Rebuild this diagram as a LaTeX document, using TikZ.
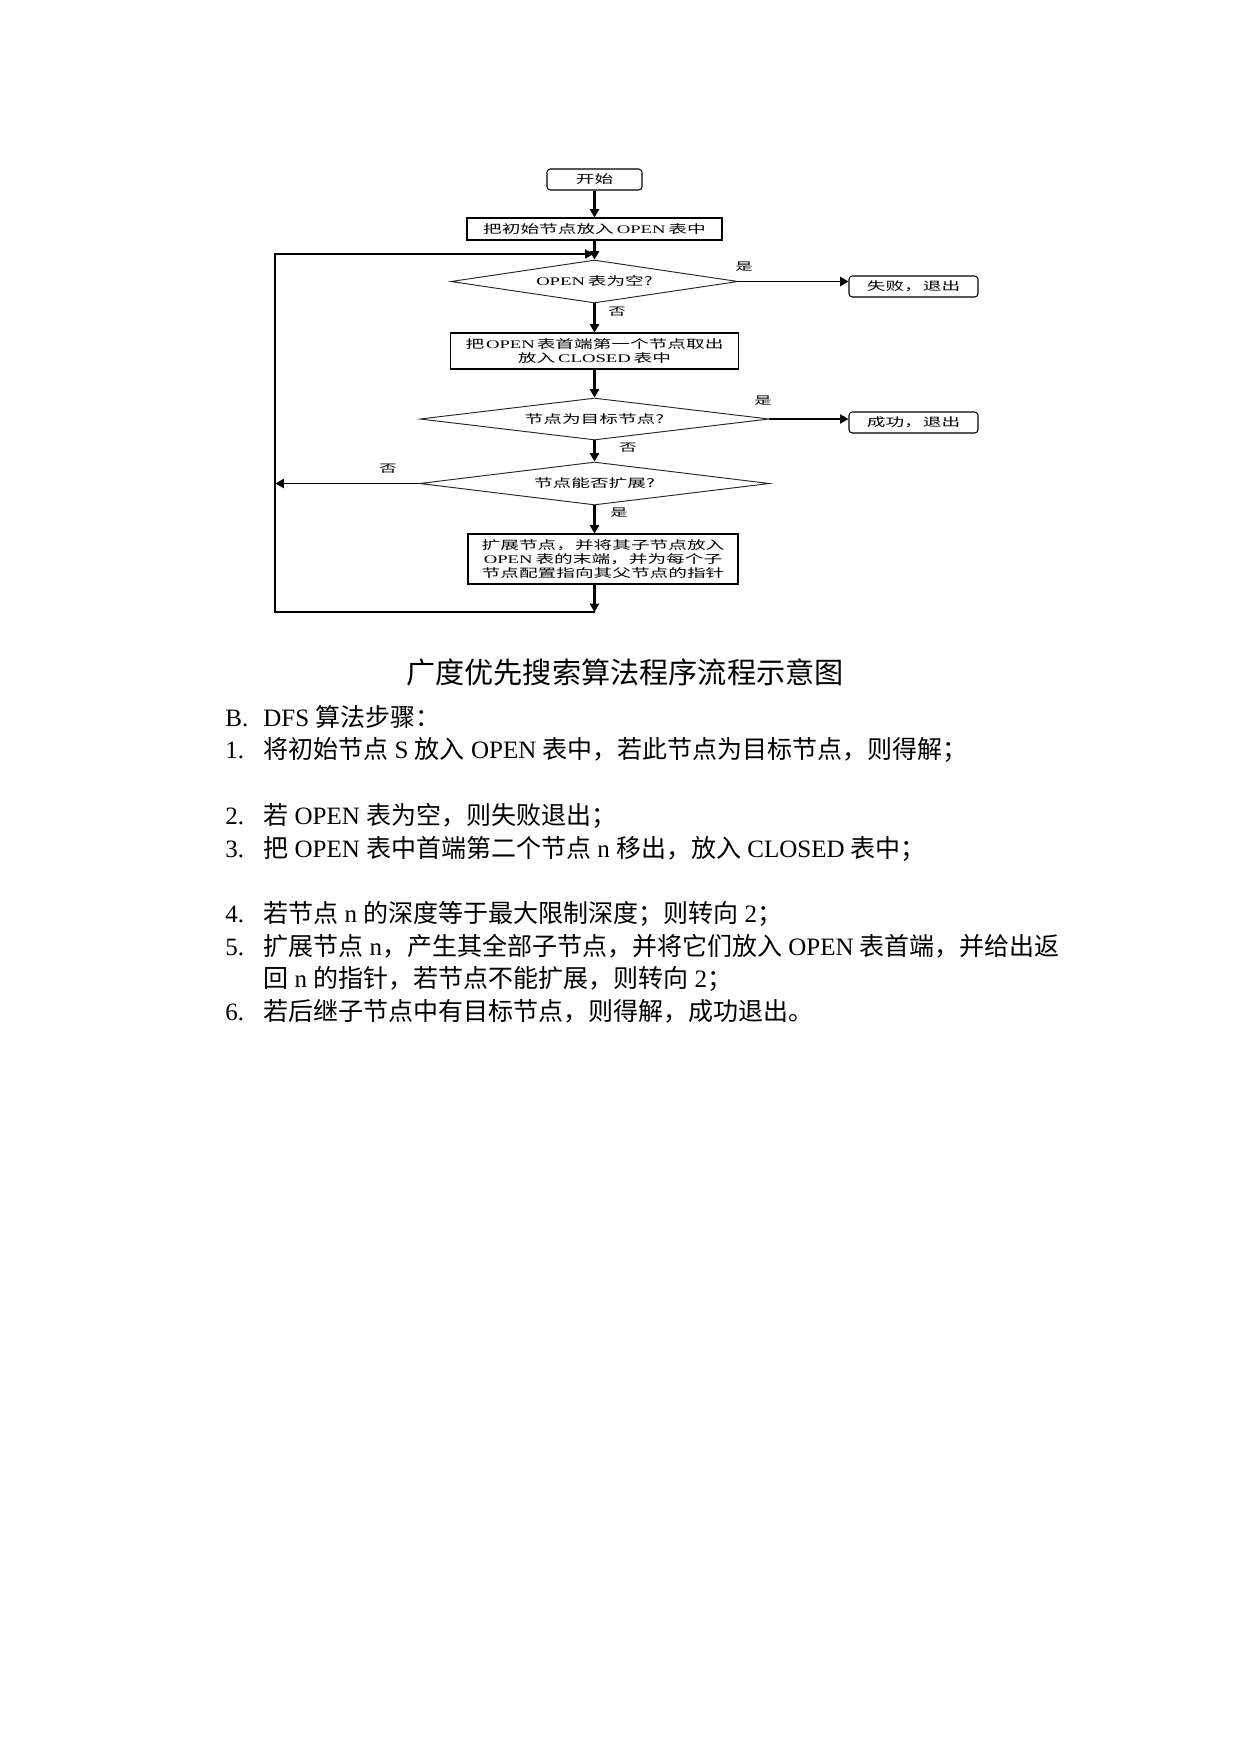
\documentclass[tikz,border=0pt]{standalone}
\usepackage{fontspec}
\setmainfont{Liberation Serif}
\newfontfamily\cjk{Noto Sans CJK SC}
\newfontfamily\fcjk[FakeStretch=1.6]{Noto Sans CJK SC}
\newfontfamily\fclat[FakeStretch=1.6]{Liberation Serif}
\usetikzlibrary{arrows.meta,shapes.geometric}
\newcommand\C[1]{{\cjk #1}}
\newcommand\FC[1]{{\fcjk #1}}
\newcommand\FL[1]{{\fclat #1}}
\tikzset{
  sz/.style 2 args={minimum width=#1*0.48pt, minimum height=#2*0.48pt},
  box/.style={draw=black, line width=0.5pt, inner sep=0pt, align=center,
    font=\fontsize{5.6}{6.6}\selectfont},
  rbox/.style={box, rounded corners=1.6pt},
  dia/.style={diamond, aspect=8, draw=black!85, line width=0.45pt, inner sep=0pt,
    font=\fontsize{5.6}{6.6}\selectfont},
  tip/.style={-{Triangle[length=4pt,width=4.4pt]}},
  thk/.style={tip, line width=1.4pt},
  med/.style={tip, line width=0.9pt},
  lite/.style={tip, line width=0.7pt},
  ret/.style={line width=0.55pt},
  lbl/.style={inner sep=0pt, font=\fontsize{5.2}{6}\selectfont\fcjk},
  body/.style={anchor=west, inner sep=0pt, text height=0.88em, text depth=0.12em,
    font=\fontsize{12}{15}\selectfont},
}
\begin{document}
\begin{tikzpicture}[x=0.48pt, y=-0.48pt]
\useasboundingbox[fill=white] (0,0) rectangle (1241,1754);

% flowchart nodes
\node[rbox, sz={95}{21}] (start) at (594.5,179.5) {\FC{开始}};
\node[box, sz={255}{22}] (init) at (594.5,229) {\FC{把初始节点放入} \FL{OPEN} \FC{表中}};
\node[dia, sz={287}{43}] (d1) at (594.5,281.5) {\FL{OPEN} \FC{表为空?}};
\node[rbox, sz={129}{21}] (fail) at (913.5,286.5) {\FC{失败，退出}};
\node[box, sz={288}{36}] (take) at (594.5,351) {\FC{把}\,\FL{OPEN}\,\FC{表首端第一个节点取出}\\ \FC{放入} \FL{CLOSED} \FC{表中}};
\node[dia, sz={349}{42}] (d2) at (594.5,419) {\FC{节点为目标节点?}};
\node[rbox, sz={129}{21}] (succ) at (913.5,422.5) {\FC{成功，退出}};
\node[dia, sz={350}{43}] (d3) at (594.5,483.5) {\FC{节点能否扩展?}};
\node[box, sz={270}{50}] (expand) at (603,559) {\FC{扩展节点，并将其子节点放入}\\ \FL{OPEN} \FC{表的末端，并为每个子}\\ \FC{节点配置指向其父节点的指针}};

% helper coordinates
\coordinate (bl) at (594.5,612);
\coordinate (lb) at (275,612);
\coordinate (lt) at (275,254);
\coordinate (join) at (593.5,254);
\coordinate (lm) at (275.5,483.5);

% connectors
\draw[thk] (start.south) -- (init.north);
\draw[thk] (init.south) -- (d1.north);
\draw[ret] (bl) -- (lb) -- (lt) -- (join);
\draw[tip, ret] (lt) -- (join);
\draw[thk] (d1.south) -- (take.north);
\draw[med] (d1.east) -- (d1.east -| fail.west);
\draw[thk] (take.south) -- (d2.north);
\draw[lite] (d2.east) -- (d2.east -| succ.west);
\draw[thk] (d2.south) -- (d3.north);
\draw[med] (d3.west) -- (lm);
\draw[thk] (d3.south) -- (d3.south |- expand.north);
\draw[thk] (d3.south |- expand.south) -- (bl);

% branch labels
\node[lbl] (y1) at (744,267) {是};
\node[lbl] (n1) at (617,312) {否};
\node[lbl] (y2) at (763,401) {是};
\node[lbl] (n2) at (628,448) {否};
\node[lbl] (n3) at (388,469) {否};
\node[lbl] (y3) at (619,513) {是};

% caption
\node[inner sep=0pt, font=\fontsize{14}{16}\selectfont\cjk] (title) at (625,672) {广度优先搜索算法程序流程示意图};

% body text
\node[body] (tb) at (225,719) {B.};
\node[body] (tb2) at (263,719) {DFS \C{算法步骤：}};
\node[body] (n1a) at (225,751) {1.};
\node[body] (n1b) at (263,751) {\C{将初始节点} S \C{放入} OPEN \C{表中，若此节点为目标节点，则得解；}};
\node[body] (n2a) at (225,817) {2.};
\node[body] (n2b) at (263,817) {\C{若} OPEN \C{表为空，则失败退出；}};
\node[body] (n3a) at (225,850) {3.};
\node[body] (n3b) at (263,850) {\C{把} OPEN \C{表中首端第二个节点} n \C{移出，放入} CLOSED \C{表中；}};
\node[body] (n4a) at (225,915) {4.};
\node[body] (n4b) at (263,915) {\C{若节点} n \C{的深度等于最大限制深度；则转向} 2\C{；}};
\node[body] (n5a) at (225,948) {5.};
\node[body] (n5b) at (263,948) {\C{扩展节点} n\C{，产生其全部子节点，并将它们放入} OPEN \C{表首端，并给出返}};
\node[body] (n5c) at (263,980) {\C{回} n \C{的指针，若节点不能扩展，则转向} 2\C{；}};
\node[body] (n6a) at (225,1013) {6.};
\node[body] (n6b) at (263,1013) {\C{若后继子节点中有目标节点，则得解，成功退出。}};
\end{tikzpicture}
\end{document}
